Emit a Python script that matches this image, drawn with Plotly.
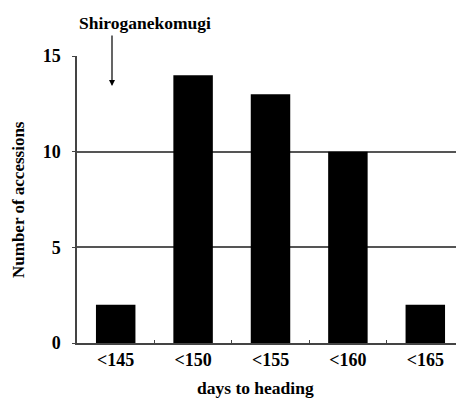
import plotly.graph_objects as go

categories = ["<145", "<150", "<155", "<160", "<165"]
counts = [2, 14, 13, 10, 2]
y_ticks = [0, 5, 10, 15]

font_family = "Liberation Serif"
OFF = 8  # browser default body margin
W, H = 464 - OFF, 399 - OFF
L, T = 77 - OFF, 56 - OFF
R = 0
B = H - (343 - OFF)
pw, ph = W - L - R, H - T - B


def px_x(xp):
    return (xp - OFF - L) / pw


def px_y(yp):
    return (H - B - (yp - OFF)) / ph


fig = go.Figure()
fig.add_trace(go.Bar(
    x=categories, y=counts,
    marker=dict(color="black", line=dict(color="black", width=0)),
    width=0.51,
))

# arrow
fig.add_annotation(
    x=px_x(112), y=px_y(86), xref="paper", yref="paper",
    ax=0, ay=-52, axref="pixel", ayref="pixel",
    showarrow=True, arrowhead=2, arrowsize=1, arrowwidth=1.2, arrowcolor="black",
    text="",
)
# label
fig.add_annotation(
    x=px_x(145), y=px_y(23), xref="paper", yref="paper",
    xanchor="center", yanchor="middle",
    text="<b>Shiroganekomugi</b>", showarrow=False,
    font=dict(family=font_family, size=17.5, color="black"),
)
# axis titles
fig.add_annotation(
    x=px_x(255), y=px_y(388), xref="paper", yref="paper",
    xanchor="center", yanchor="middle",
    text="<b>days to heading</b>", showarrow=False,
    font=dict(family=font_family, size=17.5, color="black"),
)
fig.add_annotation(
    x=px_x(18), y=px_y(200), xref="paper", yref="paper",
    xanchor="center", yanchor="middle", textangle=-90,
    text="<b>Number of accessions</b>", showarrow=False,
    font=dict(family=font_family, size=17, color="black"),
)

fig.update_layout(
    width=W, height=H,
    margin=dict(l=L, r=R, t=T, b=B),
    plot_bgcolor="white", paper_bgcolor="white",
    showlegend=False,
    bargap=0.49,
    font=dict(family=font_family, size=17, color="black"),
    xaxis=dict(
        type="category",
        range=[-0.5, 4.5],
        automargin=False,
        tickvals=categories,
        ticktext=[f"<b>{c}</b>" for c in categories],
        showline=True, linecolor="#444", linewidth=1.5,
        ticks="inside", tickson="boundaries", ticklen=3, tickcolor="#444",
        tickfont=dict(family=font_family, size=18, color="black"),
        showgrid=False,
    ),
    yaxis=dict(
        range=[0, 15],
        automargin=False,
        tickvals=y_ticks,
        ticktext=[f"<b>{v}</b>" for v in y_ticks],
        showline=True, linecolor="#444", linewidth=1.5,
        ticks="outside", ticklen=3, tickcolor="#444",
        ticklabelstandoff=8,
        showgrid=True, gridcolor="#555", gridwidth=1.5,
        zeroline=False,
        tickfont=dict(family=font_family, size=18, color="black"),
    ),
)

fig.write_html("out.html")
